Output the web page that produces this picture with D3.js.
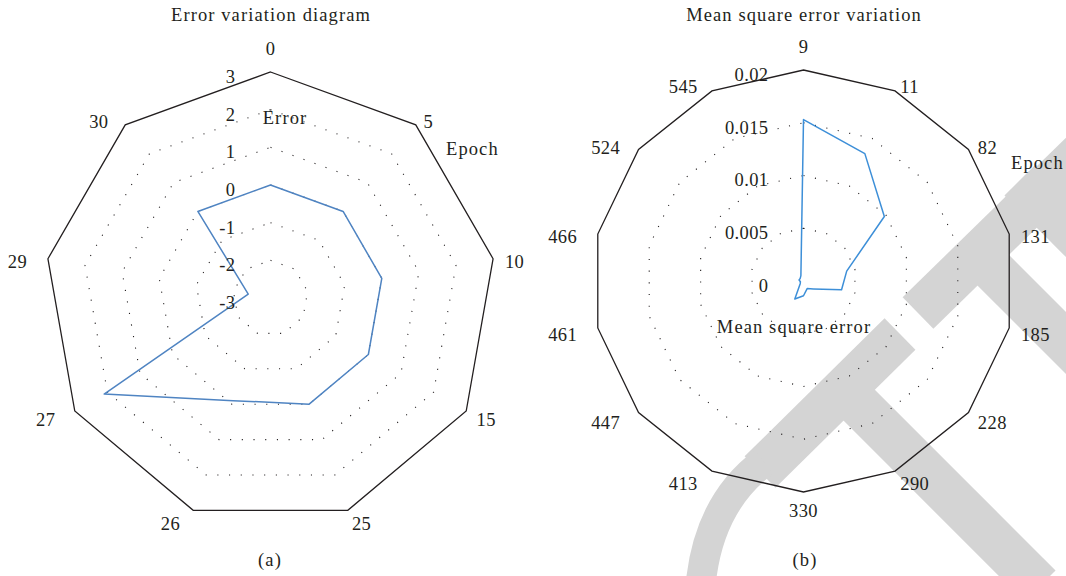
<!DOCTYPE html>
<html>
<head>
<meta charset="utf-8">
<script src="https://cdn.jsdelivr.net/npm/d3@7"></script>
<style>
  html, body { margin: 0; padding: 0; background: #fff; }
  svg { display: block; font-family: "Liberation Serif", "DejaVu Serif", serif; }
</style>
</head>
<body>
<script>
// ---- data (a) ----
const errCats = ['0', '5', '10', '15', '25', '26', '27', '29', '30'];
const errVals = [0, 0, 0, 0, 0, -0.1, 2.1, -2.4, 0];
const errTicks = [-3, -2, -1, 0, 1, 2, 3];

// ---- data (b) ----
const mseCats = ['9', '11', '82', '131', '185', '228', '290', '330', '413', '447', '461', '466', '524', '545'];
const mseVals = [0.0153, 0.0134, 0.0098, 0.0042, 0.0037, 0.0012, 0.0008, 0.0014, 0.0019, 0.0004, 0.0003, 0.00043, 0.0004, 0.00057];
const mseTicks = [0, 0.005, 0.01, 0.015, 0.02];

let width = 1066;
let height = 576;
let ink = '#231f20';

let svg = d3.select('body').append('svg')
  .attr('width', width)
  .attr('height', height);

// faint grey stamp that sits behind panel (b)
let stamp = svg.append('g')
  .attr('fill', 'none')
  .attr('stroke', '#d4d4d4')
  .attr('stroke-width', 44);
stamp.append('path').attr('d', 'M760,472L900,334');
stamp.append('path').attr('d', 'M852,398L1040,586');
stamp.append('path').attr('d', 'M700,592Q706,505 764,462').attr('stroke-width', 30);
stamp.append('path').attr('d', 'M918,313L1090,145');
stamp.append('path').attr('d', 'M985,262L1090,367');
stamp.append('path').attr('d', 'M1020,180L1090,250');

let drawRadar = (opt) => {
  let n = opt.cats.length;
  let g = svg.append('g').attr('transform', `translate(${opt.cx},${opt.cy})`);
  let r = d3.scaleLinear().domain(d3.extent(opt.ticks)).range([0, opt.R]);
  let angle = (i) => i * 2 * Math.PI / n;

  let ring = (v) => d3.lineRadial()
    .angle((d, i) => angle(i))
    .radius(() => r(v))
    .curve(d3.curveLinearClosed)(opt.cats);

  // grid rings: dotted inside, solid frame outside
  let top = opt.ticks[opt.ticks.length - 1];
  g.selectAll('path.grid')
    .data(opt.ticks.slice(1, -1))
    .enter()
    .append('path')
      .attr('class', 'grid')
      .attr('d', (d) => ring(d))
      .attr('fill', 'none')
      .attr('stroke', ink)
      .attr('stroke-width', 1.1)
      .attr('stroke-dasharray', '1.1 10.6');
  g.append('path')
    .attr('d', ring(top))
    .attr('fill', 'none')
    .attr('stroke', ink)
    .attr('stroke-width', 1.3);

  // data line
  g.append('path')
    .datum(opt.vals)
    .attr('d', d3.lineRadial()
      .angle((d, i) => angle(i))
      .radius((d) => r(d))
      .curve(d3.curveLinearClosed))
    .attr('fill', 'none')
    .attr('stroke', opt.color)
    .attr('stroke-width', 1.5)
    .attr('stroke-linejoin', 'round');

  // value labels up the first spoke
  g.selectAll('text.tick')
    .data(opt.ticks)
    .enter()
    .append('text')
      .attr('class', 'tick')
      .attr('x', -35)
      .attr('y', (d) => -r(d) + 4.5)
      .attr('dy', '0.35em')
      .attr('text-anchor', 'end')
      .attr('font-size', 18.5)
      .attr('letter-spacing', 0.4)
      .attr('fill', ink)
      .text((d) => opt.fmt(d));

  // category labels round the frame
  g.selectAll('text.cat')
    .data(opt.cats)
    .enter()
    .append('text')
      .attr('class', 'cat')
      .each(function (d, i) {
        let s = Math.sin(angle(i));
        let c = Math.cos(angle(i));
        let vx = r(top) * s;
        let vy = -r(top) * c;
        let t = d3.select(this);
        if (Math.abs(s) < 0.05) {
          t.attr('x', vx).attr('y', vy - c * (c > 0 ? 23 : 19)).attr('text-anchor', 'middle');
        } else {
          t.attr('x', vx + s * 12 + (s < 0 ? -9 : 0))
           .attr('y', vy - c * 9.4 + 4.2)
           .attr('text-anchor', s > 0 ? 'start' : 'end');
        }
      })
      .attr('dy', '0.35em')
      .attr('font-size', 18.5)
      .attr('letter-spacing', 0.4)
      .attr('fill', ink)
      .text((d) => d);

  // titles and axis names
  let words = [
    { t: opt.title, x: opt.titleX, y: 21, a: 'middle' },
    { t: opt.panel, x: opt.panelX, y: 566, a: 'middle' },
    { t: opt.valueName, x: opt.valueXY[0], y: opt.valueXY[1], a: 'middle' },
    { t: 'Epoch', x: opt.epochXY[0], y: opt.epochXY[1], a: 'start' }
  ];
  svg.selectAll(null)
    .data(words)
    .enter()
    .append('text')
      .attr('x', (d) => d.x)
      .attr('y', (d) => d.y)
      .attr('text-anchor', (d) => d.a)
      .attr('font-size', 18.5)
      .attr('letter-spacing', 1.1)
      .attr('fill', ink)
      .text((d) => d.t);
};

drawRadar({
  cx: 270.5, cy: 298, R: 226,
  cats: errCats, vals: errVals, ticks: errTicks,
  fmt: (d) => String(d),
  color: '#4f84c2',
  title: 'Error variation diagram', titleX: 271,
  panel: '(a)', panelX: 270,
  valueName: 'Error', valueXY: [285, 124],
  epochXY: [446, 155]
});

drawRadar({
  cx: 803.5, cy: 281, R: 211,
  cats: mseCats, vals: mseVals, ticks: mseTicks,
  fmt: (d) => String(d),
  color: '#3d8fd8',
  title: 'Mean square error variation', titleX: 804,
  panel: '(b)', panelX: 805,
  valueName: 'Mean square error', valueXY: [794, 333],
  epochXY: [1011, 169]
});
</script>
</body>
</html>
